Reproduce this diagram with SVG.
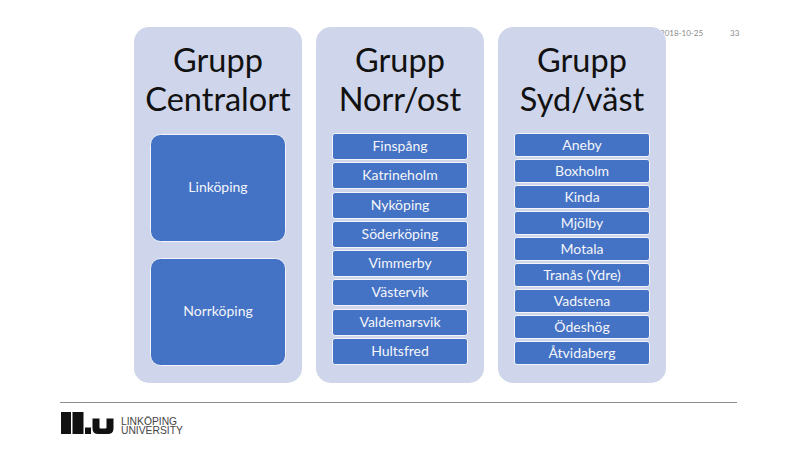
<svg xmlns="http://www.w3.org/2000/svg" width="800" height="450" viewBox="0 0 800 450">
<style>
text{font-family:Lato,"Open Sans",sans-serif}
.panel{fill:#cfd5ea}
.box{fill:#4472c4;stroke:#f2f4fa;stroke-width:1}
.title{font-size:32.500px;fill:#111;text-anchor:middle}
.lbl{font-size:14px;fill:#f4f6fb;text-anchor:middle}
.meta{font-size:8px;fill:#8a8a8a}
.logo{fill:#111}
.brand{font-size:10.300px;fill:#444;font-family:"Liberation Sans",Arial,sans-serif}
</style>
<rect width="800" height="450" fill="#fff"/>
<text class="meta" x="660" y="36">2018-10-25</text>
<text class="meta" x="730" y="36">33</text>
<g id="panel-centralort">
<rect class="panel" x="134" y="27" width="168" height="356" rx="15"/>
<text class="title" x="218" y="72">Grupp</text>
<text class="title" x="218" y="111">Centralort</text>
</g>
<g id="panel-norr"><rect class="panel" x="316" y="27" width="168" height="356" rx="15"/>
<text class="title" x="400" y="72">Grupp</text>
<text class="title" x="400" y="111">Norr/ost</text>
</g>
<g id="panel-syd"><rect class="panel" x="498" y="27" width="168" height="356" rx="15"/>
<text class="title" x="582" y="72">Grupp</text>
<text class="title" x="582" y="111">Syd/väst</text>
</g>
<g id="linkoping"><rect class="box" x="150.500" y="134.500" width="135" height="107" rx="10"/><text class="lbl" x="218" y="192">Linköping</text></g>
<g id="norrkoping"><rect class="box" x="150.500" y="258.500" width="135" height="107" rx="10"/><text class="lbl" x="218" y="316">Norrköping</text></g>
<g id="finspang"><rect class="box" x="332.500" y="133.500" width="135" height="26" rx="2.500"/><text class="lbl" x="400" y="151">Finspång</text></g>
<g id="katrineholm"><rect class="box" x="332.500" y="162.500" width="135" height="26" rx="2.500"/><text class="lbl" x="400" y="180">Katrineholm</text></g>
<g id="nykoping"><rect class="box" x="332.500" y="192.500" width="135" height="26" rx="2.500"/><text class="lbl" x="400" y="210">Nyköping</text></g>
<g id="soderkoping"><rect class="box" x="332.500" y="221.500" width="135" height="26" rx="2.500"/><text class="lbl" x="400" y="239">Söderköping</text></g>
<g id="vimmerby"><rect class="box" x="332.500" y="250.500" width="135" height="26" rx="2.500"/><text class="lbl" x="400" y="268">Vimmerby</text></g>
<g id="vastervik"><rect class="box" x="332.500" y="279.500" width="135" height="26" rx="2.500"/><text class="lbl" x="400" y="297">Västervik</text></g>
<g id="valdemarsvik"><rect class="box" x="332.500" y="309.500" width="135" height="26" rx="2.500"/><text class="lbl" x="400" y="327">Valdemarsvik</text></g>
<g id="hultsfred"><rect class="box" x="332.500" y="338.500" width="135" height="26" rx="2.500"/><text class="lbl" x="400" y="356">Hultsfred</text></g>
<g id="aneby"><rect class="box" x="514.500" y="133.500" width="135" height="23" rx="2.500"/><text class="lbl" x="582" y="150">Aneby</text></g>
<g id="boxholm"><rect class="box" x="514.500" y="159.500" width="135" height="23" rx="2.500"/><text class="lbl" x="582" y="176">Boxholm</text></g>
<g id="kinda"><rect class="box" x="514.500" y="185.500" width="135" height="23" rx="2.500"/><text class="lbl" x="582" y="202">Kinda</text></g>
<g id="mjolby"><rect class="box" x="514.500" y="211.500" width="135" height="23" rx="2.500"/><text class="lbl" x="582" y="228">Mjölby</text></g>
<g id="motala"><rect class="box" x="514.500" y="237.500" width="135" height="23" rx="2.500"/><text class="lbl" x="582" y="254">Motala</text></g>
<g id="tranas"><rect class="box" x="514.500" y="263.500" width="135" height="23" rx="2.500"/><text class="lbl" x="582" y="280">Tranås (Ydre)</text></g>
<g id="vadstena"><rect class="box" x="514.500" y="289.500" width="135" height="23" rx="2.500"/><text class="lbl" x="582" y="306">Vadstena</text></g>
<g id="odeshog"><rect class="box" x="514.500" y="315.500" width="135" height="23" rx="2.500"/><text class="lbl" x="582" y="332">Ödeshög</text></g>
<g id="atvidaberg"><rect class="box" x="514.500" y="341.500" width="135" height="23" rx="2.500"/><text class="lbl" x="582" y="358">Åtvidaberg</text></g>
<g id="connectors"></g>
<line x1="60" y1="402.500" x2="737" y2="402.500" stroke="#8c8c8c" stroke-width="1"/>
<g id="logo">
<rect class="logo" x="61" y="412" width="10" height="22"/>
<rect class="logo" x="72.500" y="412" width="11" height="22"/>
<rect class="logo" x="85" y="427.500" width="6" height="6.500"/>
<path class="logo" d="M92.500 418.500h7v9q0 1 1 1h5q1 0 1-1v-9h7v10q0 5.500-6 5.500h-9q-6 0-6-5.500z"/>
<text class="brand"><tspan x="121" y="425">LINKÖPING</tspan><tspan x="121" y="434">UNIVERSITY</tspan></text>
</g>
</svg>
